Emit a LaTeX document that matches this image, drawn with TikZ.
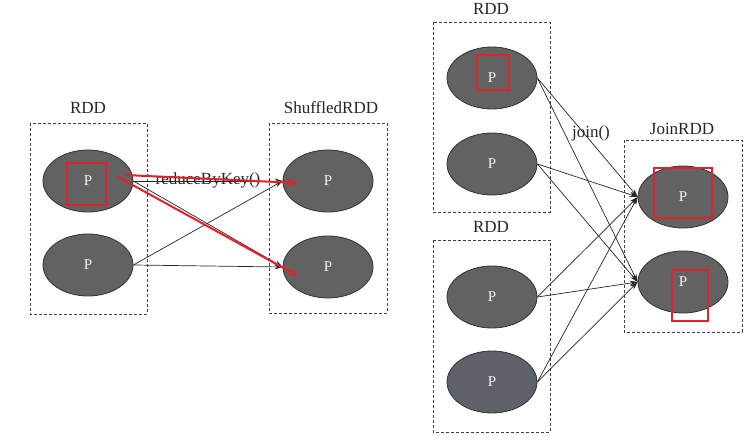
\documentclass[tikz,border=0pt]{standalone}
\usepackage{fontspec}
\setmainfont{Liberation Serif}
\usetikzlibrary{shapes.geometric,arrows.meta,calc}
\definecolor{pfill}{HTML}{626262}
\definecolor{pfillb}{HTML}{5E6168}
\definecolor{myred}{HTML}{E3212B}
\begin{document}
\begin{tikzpicture}[x=1pt,y=-1pt,
  part/.style={ellipse,fill=pfill,draw=black!80,line width=0.8pt,minimum width=90pt,minimum height=62pt,inner sep=0pt,text=white!90!gray,font=\fontsize{15}{15}\selectfont},
  box/.style={draw=black!75,dashed,dash pattern=on 3pt off 2pt,line width=0.8pt},
  lbl/.style={font=\fontsize{17}{17}\selectfont,text=black!85},
  conn/.style={draw=black!85,line width=0.7pt,-{Stealth[length=8pt,width=5pt]}},
  redconn/.style={draw=myred,line width=2pt,-{Stealth[length=10pt,width=7pt]}},
  redbox/.style={draw=myred,line width=2.5pt}]
\useasboundingbox[fill=white] (0,0) rectangle (755,444);

% Left part
\draw[box] (30,123) rectangle (147,314);
\node[lbl] (lrdd) at (88,108) {RDD};
\node[part] (l1) at (88,181) {P};
\node[part] (l2) at (88,265) {P};

\draw[box] (269,123) rectangle (387,313);
\node[lbl] (shrdd) at (331,108) {ShuffledRDD};
\node[part] (s1) at (328,181) {P};
\node[part] (s2) at (328,267) {P};

\draw[conn] (l1.east) -- (s1.west);
\draw[conn] (l1.east) -- (s2.west);
\draw[conn] (l2.east) -- (s1.west);
\draw[conn] (l2.east) -- (s2.west);
\node[lbl] (rbk) at (208,180) {reduceByKey()};

\draw[redbox] (67,163) rectangle (106,205);
\coordinate (r1s) at (125,175);
\coordinate (r2s) at (118,177);
\coordinate (r1e) at (298,183);
\coordinate (r2e) at (298,276);
\draw[redconn] (r1s) -- (r1e);
\draw[redconn] (r2s) -- (r2e);

% Right part
\draw[box] (433,22) rectangle (550,212);
\node[lbl] (rrdd1) at (491,9) {RDD};
\node[part] (a1) at (492,78) {P};
\node[part] (a2) at (492,164) {P};

\draw[box] (433,240) rectangle (550,432);
\node[lbl] (rrdd2) at (491,227) {RDD};
\node[part] (b1) at (492,297) {P};
\node[part,fill=pfillb] (b2) at (492,382) {P};

\draw[box] (624,140) rectangle (742,332);
\node[lbl] (jrdd) at (682,129) {JoinRDD};
\node[part] (j1) at (683,197) {P};
\node[part] (j2) at (683,282) {P};

\foreach \s in {a1,a2,b1,b2}{
  \draw[conn] (\s.east) -- (j1.west);
  \draw[conn] (\s.east) -- (j2.west);
}
\node[lbl] (join) at (591,133) {join()};

\draw[redbox] (477,55) rectangle (509,90);
\draw[redbox] (654,168) rectangle (712,218);
\draw[redbox] (672,270) rectangle (708,321);
\end{tikzpicture}
\end{document}
